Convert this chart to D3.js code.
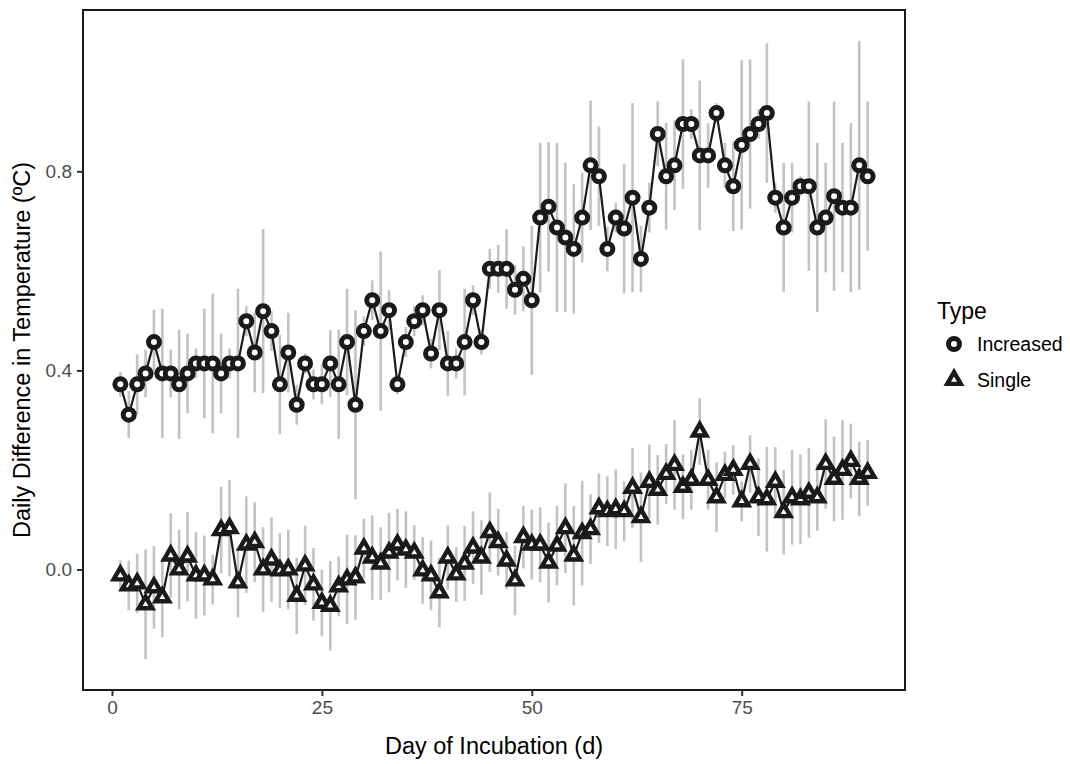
<!DOCTYPE html>
<html lang="en">
<head>
    <meta charset="UTF-8">
    <script src="https://d3js.org/d3.v7.min.js"></script>
    <style>
        body { margin: 0; background: #fff; }
        text { font-family: "Liberation Sans", Arial, Helvetica, sans-serif; }
    </style>
</head>
<body>
    <svg id="chart" width="1070" height="764"></svg>

    <script>
        // day of incubation
        const days = d3.range(1, 91);

        // mean daily difference, "Increased" treatment
        const increasedMean = [
            0.372, 0.311, 0.372, 0.394, 0.457, 0.394, 0.394, 0.372, 0.394, 0.414,
            0.414, 0.414, 0.394, 0.414, 0.414, 0.499, 0.436, 0.519, 0.479, 0.372,
            0.436, 0.331, 0.414, 0.372, 0.372, 0.414, 0.372, 0.457, 0.331, 0.479,
            0.541, 0.479, 0.521, 0.372, 0.457, 0.499, 0.521, 0.434, 0.521, 0.414,
            0.414, 0.457, 0.541, 0.457, 0.604, 0.604, 0.604, 0.562, 0.584, 0.541,
            0.707, 0.729, 0.687, 0.667, 0.644, 0.707, 0.812, 0.790, 0.644, 0.707,
            0.685, 0.747, 0.624, 0.727, 0.875, 0.790, 0.812, 0.895, 0.895, 0.832,
            0.832, 0.917, 0.812, 0.770, 0.853, 0.875, 0.895, 0.917, 0.747, 0.687,
            0.747, 0.770, 0.770, 0.687, 0.707, 0.750, 0.727, 0.727, 0.812, 0.790
        ];
        // half width of the error bar
        const increasedErr = [
            0.025, 0.047, 0.060, 0.048, 0.065, 0.130, 0.048, 0.110, 0.080, 0.030,
            0.110, 0.140, 0.080, 0.030, 0.150, 0.030, 0.080, 0.165, 0.040, 0.100,
            0.080, 0.040, 0.020, 0.030, 0.040, 0.067, 0.110, 0.107, 0.190, 0.030,
            0.040, 0.160, 0.040, 0.020, 0.030, 0.030, 0.030, 0.030, 0.080, 0.065,
            0.030, 0.107, 0.030, 0.025, 0.040, 0.048, 0.080, 0.050, 0.065, 0.150,
            0.150, 0.130, 0.170, 0.150, 0.130, 0.090, 0.130, 0.100, 0.045, 0.030,
            0.130, 0.190, 0.067, 0.050, 0.065, 0.107, 0.090, 0.130, 0.030, 0.150,
            0.065, 0.020, 0.045, 0.090, 0.170, 0.150, 0.030, 0.140, 0.030, 0.130,
            0.070, 0.020, 0.170, 0.170, 0.110, 0.190, 0.130, 0.170, 0.250, 0.150
        ];

        // mean daily difference, "Single" treatment
        const singleMean = [
            -0.012, -0.032, -0.028, -0.070, -0.036, -0.056, 0.028, 0.000, 0.026, -0.012,
            -0.012, -0.020, 0.079, 0.083, -0.026, 0.050, 0.055, 0.000, 0.020, -0.002,
            0.000, -0.053, 0.008, -0.030, -0.067, -0.073, -0.034, -0.020, -0.016, 0.042,
            0.024, 0.012, 0.034, 0.050, 0.040, 0.034, -0.002, -0.012, -0.046, 0.024,
            -0.010, 0.012, 0.044, 0.024, 0.075, 0.055, 0.018, -0.022, 0.065, 0.050,
            0.050, 0.014, 0.048, 0.083, 0.028, 0.073, 0.081, 0.123, 0.117, 0.121,
            0.117, 0.164, 0.105, 0.176, 0.160, 0.192, 0.210, 0.166, 0.180, 0.277,
            0.180, 0.145, 0.190, 0.200, 0.137, 0.212, 0.145, 0.141, 0.176, 0.115,
            0.145, 0.141, 0.154, 0.145, 0.212, 0.182, 0.200, 0.218, 0.182, 0.194
        ];
        const singleErr = [
            0.030, 0.050, 0.060, 0.110, 0.083, 0.080, 0.085, 0.080, 0.090, 0.087,
            0.080, 0.050, 0.087, 0.097, 0.070, 0.097, 0.080, 0.085, 0.085, 0.075,
            0.080, 0.077, 0.080, 0.073, 0.067, 0.090, 0.060, 0.090, 0.085, 0.060,
            0.085, 0.073, 0.080, 0.072, 0.077, 0.055, 0.067, 0.070, 0.070, 0.065,
            0.055, 0.075, 0.073, 0.075, 0.080, 0.067, 0.057, 0.070, 0.063, 0.070,
            0.075, 0.080, 0.080, 0.090, 0.100, 0.105, 0.070, 0.070, 0.070, 0.080,
            0.060, 0.080, 0.090, 0.075, 0.070, 0.060, 0.090, 0.065, 0.060, 0.067,
            0.060, 0.070, 0.047, 0.050, 0.040, 0.058, 0.078, 0.105, 0.070, 0.085,
            0.095, 0.090, 0.090, 0.067, 0.090, 0.085, 0.100, 0.075, 0.075, 0.066
        ];

        const types = ["Increased", "Single"];
        const xTicks = [0, 25, 50, 75];
        const yTicks = [0.0, 0.4, 0.8];

        const series = [
            { type: "Increased", mean: increasedMean, err: increasedErr },
            { type: "Single", mean: singleMean, err: singleErr }
        ].map(s => ({
            type: s.type,
            values: days.map((d, i) => ({ day: d, mean: s.mean[i], lo: s.mean[i] - s.err[i], hi: s.mean[i] + s.err[i] }))
        }));

        const svg = d3.select("#chart");
        const panel = { left: 83, right: 905, top: 10, bottom: 690 };

        // ggplot style 5% expansion around the data
        function expand(ext) {
            const pad = (ext[1] - ext[0]) * 0.05;
            return [ext[0] - pad, ext[1] + pad];
        }
        const allVals = series.flatMap(s => s.values);
        const x = d3.scaleLinear()
            .domain(expand(d3.extent(days)))
            .range([panel.left, panel.right]);
        const y = d3.scaleLinear()
            .domain(expand([d3.min(allVals, d => d.lo), d3.max(allVals, d => d.hi)]))
            .range([panel.bottom, panel.top]);

        // shapes: open circle / open triangle with thick stroke
        function triPath(r) {
            const h = r * Math.sqrt(3) / 2;
            return `M0,${-r}L${h},${r / 2}L${-h},${r / 2}Z`;
        }
        function drawShape(g, type, cx, cy) {
            if (type === "Increased") {
                g.append("circle").attr("cx", cx).attr("cy", cy).attr("r", 5.5)
                    .attr("fill", "#fff").attr("stroke", "#1a1a1a").attr("stroke-width", 5);
            } else {
                g.append("path").attr("d", triPath(7.8))
                    .attr("transform", `translate(${cx},${cy})`)
                    .attr("fill", "#fff").attr("stroke", "#1a1a1a").attr("stroke-width", 4.4)
                    .attr("stroke-linejoin", "miter");
            }
        }

        // error bars
        const gErr = svg.append("g");
        series.forEach(s => {
            gErr.selectAll(null)
                .data(s.values)
                .enter().append("line")
                .attr("x1", d => x(d.day)).attr("x2", d => x(d.day))
                .attr("y1", d => y(d.lo)).attr("y2", d => y(d.hi))
                .attr("stroke", "#c3c3c5")
                .attr("stroke-width", 2.6);
        });

        // lines
        const line = d3.line().x(d => x(d.day)).y(d => y(d.mean));
        series.forEach(s => {
            svg.append("path")
                .datum(s.values)
                .attr("d", line)
                .attr("fill", "none")
                .attr("stroke", "#1a1a1a")
                .attr("stroke-width", 2.2);
        });

        // points
        const gPts = svg.append("g");
        series.forEach(s => {
            s.values.forEach(d => drawShape(gPts, s.type, x(d.day), y(d.mean)));
        });

        // panel border
        svg.append("rect")
            .attr("x", panel.left).attr("y", panel.top)
            .attr("width", panel.right - panel.left).attr("height", panel.bottom - panel.top)
            .attr("fill", "none").attr("stroke", "#1a1a1a").attr("stroke-width", 2);

        // axes
        const xAxis = svg.append("g")
            .attr("transform", `translate(0,${panel.bottom})`)
            .call(d3.axisBottom(x).tickValues(xTicks).tickSize(6).tickPadding(5).tickFormat(d3.format("d")));
        const yAxis = svg.append("g")
            .attr("transform", `translate(${panel.left},0)`)
            .call(d3.axisLeft(y).tickValues(yTicks).tickSize(6).tickPadding(5).tickFormat(d3.format(".1f")));
        [xAxis, yAxis].forEach(a => {
            a.select(".domain").remove();
            a.selectAll(".tick line").attr("stroke", "#333").attr("stroke-width", 2);
            a.selectAll(".tick text").attr("fill", "#4d4d4d").style("font-size", "19px");
        });

        // axis titles
        svg.append("text")
            .attr("x", (panel.left + panel.right) / 2).attr("y", 754)
            .attr("text-anchor", "middle")
            .style("font-size", "23.5px").attr("fill", "#000")
            .text("Day of Incubation (d)");
        svg.append("text")
            .attr("transform", `translate(30,${(panel.top + panel.bottom) / 2}) rotate(-90)`)
            .attr("text-anchor", "middle")
            .style("font-size", "23.5px").attr("fill", "#000")
            .text("Daily Difference in Temperature (ºC)");

        // legend
        const legend = svg.append("g").attr("transform", "translate(937,0)");
        legend.append("text").attr("x", 0).attr("y", 319)
            .style("font-size", "23px").attr("fill", "#000").text("Type");
        types.forEach((t, i) => {
            const cy = 344 + i * 36;
            drawShape(legend, t, 17, cy);
            legend.append("text").attr("x", 40).attr("y", cy + 7)
                .style("font-size", "19.5px").attr("fill", "#000").text(t);
        });
    </script>
</body>
</html>
